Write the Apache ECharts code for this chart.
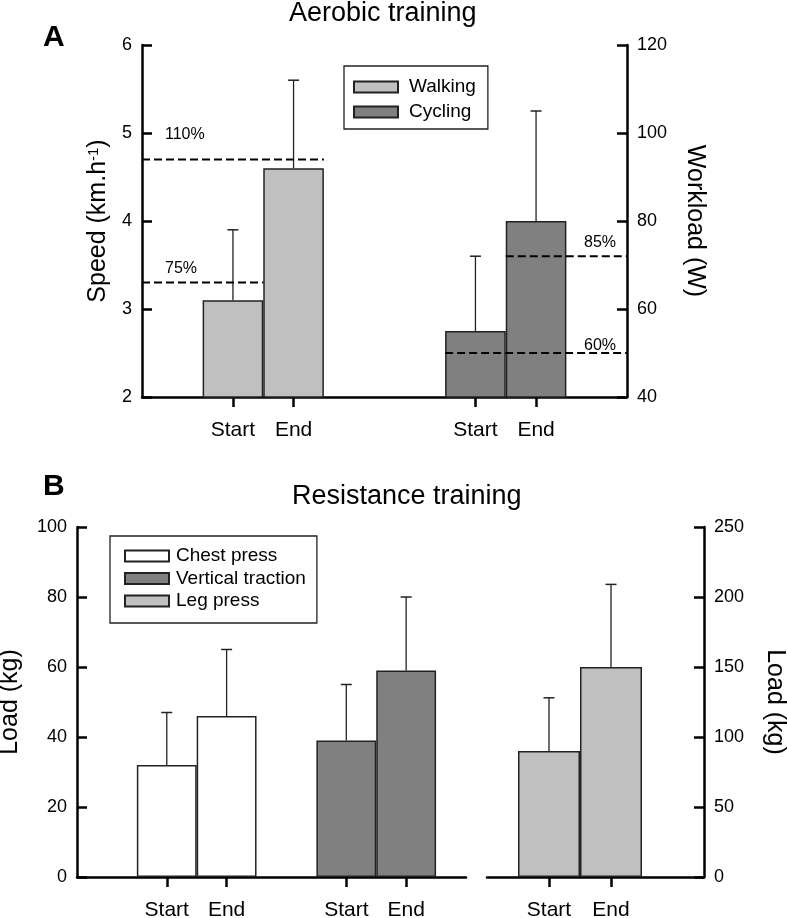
<!DOCTYPE html>
<html><head><meta charset="utf-8">
<script src="https://cdn.jsdelivr.net/npm/echarts@6/dist/echarts.min.js"></script>
<style>html,body{margin:0;padding:0;background:#fff}#c{width:787px;height:918px}</style>
</head><body><div id="c"></div>
<script>
// ---------------- data ----------------
const timepoints = ['Start', 'End'];
const aerobicTitle = 'Aerobic training';
const resistanceTitle = 'Resistance training';
const aerobicNames = ['Walking', 'Cycling'];
const walkingSpeed = [3.1, 4.6];
const walkingSpeedSD = [0.8, 1.0];
const cyclingWorkload = [55, 80];
const cyclingWorkloadSD = [17, 25];
const speedRefLabels = ['110%', '75%'];
const speedRefValues = [4.7, 3.3];
const workloadRefLabels = ['85%', '60%'];
const workloadRefValues = [72, 50];
const resistanceNames = ['Chest press', 'Vertical traction', 'Leg press'];
const chestPress = [32, 46];
const chestPressSD = [15, 19];
const verticalTraction = [39, 59];
const verticalTractionSD = [16, 21];
const legPress = [90, 150];
const legPressSD = [38, 59];
const speedTicks = [2, 6, 1];
const workloadTicks = [40, 120, 20];
const loadLeftTicks = [0, 100, 20];
const loadRightTicks = [0, 250, 50];

// ---------------- layout ----------------
const FONT = '"Liberation Sans", Arial, Helvetica, sans-serif';
const L = {
  gA: {left: 142, top: 45, width: 485, height: 352, xMax: 8},
  gB1: {left: 77, top: 527, width: 389, height: 350, xMax: 6.5},
  gB2: {left: 487, top: 527, width: 217, height: 350, xMax: 3.5},
  walkX: [1.5, 2.5], cycX: [5.5, 6.5],
  chestX: [1.5, 2.5], vtX: [4.5, 5.5], legX: [1, 2],
  speedSpan: [[0, 3], [0, 2]], workSpan: [[6, 8], [5, 8]],
  speedLabelDy: [-17, -6], workLabelDy: [-6, 1]
};
const COLORS = {light: '#c0c0c0', dark: '#808080', white: '#ffffff', edge: '#222'};
const bw = g => g.width / g.xMax;

const chart = echarts.init(document.getElementById('c'), null, {renderer: 'canvas'});

function xAxisCfg(gi, g, ticks) {
  return {
    type: 'value', gridIndex: gi, min: 0, max: g.xMax,
    axisLine: {onZero: false, lineStyle: {color: '#000', width: 2.5}},
    axisTick: {show: true, customValues: ticks, length: 10, lineStyle: {color: '#000', width: 2.5}},
    axisLabel: {customValues: ticks, margin: 23, fontSize: 21, color: '#000', fontFamily: FONT,
      formatter: v => { const i = ticks.indexOf(v); return i < 0 ? '' : timepoints[i % 2]; }},
    splitLine: {show: false}
  };
}
function yAxisCfg(gi, pos, t, name, nameGap, nameRotate, rich) {
  const o = {
    type: 'value', gridIndex: gi, position: pos, min: t[0], max: t[1], interval: t[2],
    axisLine: {show: true, onZero: false, lineStyle: {color: '#000', width: 2.5}},
    axisTick: {show: true, inside: true, length: 10, lineStyle: {color: '#000', width: 2.5}},
    axisLabel: {margin: 10, fontSize: 18, color: '#000', fontFamily: FONT},
    splitLine: {show: false},
    name: name, nameLocation: 'middle', nameGap: nameGap,
    nameTextStyle: {fontSize: 25, color: '#000', fontFamily: FONT}
  };
  if (nameRotate != null) o.nameRotate = nameRotate;
  if (rich) o.nameTextStyle.rich = rich;
  return o;
}
function barSeries(name, xs, vals, color, xi, yi, g) {
  return {
    type: 'bar', name, xAxisIndex: xi, yAxisIndex: yi,
    data: xs.map((x, i) => [x, vals[i]]),
    barWidth: bw(g), barGap: '-100%',
    itemStyle: {color, borderColor: COLORS.edge, borderWidth: 1.5},
    z: 2, silent: true
  };
}
function errSeries(xs, vals, sds, xi, yi) {
  return {
    type: 'custom', xAxisIndex: xi, yAxisIndex: yi, silent: true, z: 3,
    data: xs.map((x, i) => [x, vals[i], vals[i] + sds[i]]),
    encode: {x: 0, y: [1, 2]},
    renderItem(params, api) {
      const b = api.coord([api.value(0), api.value(1)]);
      const t = api.coord([api.value(0), api.value(2)]);
      return {type: 'group', children: [
        {type: 'line', shape: {x1: b[0], y1: b[1], x2: t[0], y2: t[1]}, style: {stroke: COLORS.edge, lineWidth: 1.3}},
        {type: 'line', shape: {x1: t[0] - 5.5, y1: t[1], x2: t[0] + 5.5, y2: t[1]}, style: {stroke: COLORS.edge, lineWidth: 1.5}}
      ]};
    }
  };
}
function refSeries(vals, labels, spans, dys, side, xi, yi) {
  return {
    type: 'custom', xAxisIndex: xi, yAxisIndex: yi, silent: true, z: 4,
    data: vals.map((v, i) => [spans[i][0], spans[i][1], v]),
    encode: {x: [0, 1], y: 2},
    renderItem(params, api) {
      const i = params.dataIndex;
      const p1 = api.coord([api.value(0), api.value(2)]);
      const p2 = api.coord([api.value(1), api.value(2)]);
      const tx = side === 'left' ? p1[0] + 23 : p2[0] - 11;
      return {type: 'group', children: [
        {type: 'line', shape: {x1: p1[0], y1: p1[1], x2: p2[0], y2: p2[1]},
         style: {stroke: '#000', lineWidth: 2, lineDash: [8, 4]}},
        {type: 'text', x: tx, y: p1[1] + dys[i],
         style: {text: labels[i], fontSize: 16, fontFamily: FONT, fill: '#000',
                 align: side === 'left' ? 'left' : 'right', verticalAlign: 'bottom'}}
      ]};
    }
  };
}

const gridOf = g => ({left: g.left, top: g.top, width: g.width, height: g.height, containLabel: false, outerBoundsMode: 'none'});
const legendBase = {
  orient: 'vertical', icon: 'rect', itemWidth: 44, itemHeight: 11,
  borderColor: '#222', borderWidth: 1.3, selectedMode: false, backgroundColor: '#fff'
};

const option = {
  backgroundColor: '#fff',
  animation: false,
  textStyle: {fontFamily: FONT},
  title: [
    {text: aerobicTitle, left: 289, top: 0, padding: 0, textStyle: {fontSize: 27, fontWeight: 'normal', color: '#000', fontFamily: FONT}},
    {text: resistanceTitle, left: 292, top: 483, padding: 0, textStyle: {fontSize: 27, fontWeight: 'normal', color: '#000', fontFamily: FONT}},
    {text: 'A', left: 43, top: 23, padding: 0, textStyle: {fontSize: 30, fontWeight: 'bold', color: '#000', fontFamily: FONT}},
    {text: 'B', left: 43, top: 472, padding: 0, textStyle: {fontSize: 30, fontWeight: 'bold', color: '#000', fontFamily: FONT}}
  ],
  legend: [
    Object.assign({}, legendBase, {data: aerobicNames, left: 344, top: 66, padding: [11, 12, 7, 9], itemGap: 5,
      textStyle: {fontSize: 19, lineHeight: 20, color: '#000', fontFamily: FONT, padding: [0, 0, 0, 6]}}),
    Object.assign({}, legendBase, {data: resistanceNames, left: 110, top: 536, padding: [10, 11, 12, 14], itemGap: 2.5,
      textStyle: {fontSize: 19, lineHeight: 20, color: '#000', fontFamily: FONT, padding: [0, 0, 0, 2]}})
  ],
  grid: [gridOf(L.gA), gridOf(L.gB1), gridOf(L.gB2)],
  xAxis: [
    xAxisCfg(0, L.gA, L.walkX.concat(L.cycX)),
    xAxisCfg(1, L.gB1, L.chestX.concat(L.vtX)),
    xAxisCfg(2, L.gB2, L.legX)
  ],
  yAxis: [
    yAxisCfg(0, 'left', speedTicks, 'Speed (km.h{sup|-1})', 30, null, {sup: {fontSize: 15, verticalAlign: 'top', fontFamily: FONT, color: '#000'}}),
    yAxisCfg(0, 'right', workloadTicks, 'Workload (W)', 55, -90),
    yAxisCfg(1, 'left', loadLeftTicks, 'Load (kg)', 54),
    yAxisCfg(2, 'right', loadRightTicks, 'Load (kg)', 58, -90)
  ],
  series: [
    barSeries(aerobicNames[0], L.walkX, walkingSpeed, COLORS.light, 0, 0, L.gA),
    barSeries(aerobicNames[1], L.cycX, cyclingWorkload, COLORS.dark, 0, 1, L.gA),
    errSeries(L.walkX, walkingSpeed, walkingSpeedSD, 0, 0),
    errSeries(L.cycX, cyclingWorkload, cyclingWorkloadSD, 0, 1),
    refSeries(speedRefValues, speedRefLabels, L.speedSpan, L.speedLabelDy, 'left', 0, 0),
    refSeries(workloadRefValues, workloadRefLabels, L.workSpan, L.workLabelDy, 'right', 0, 1),
    barSeries(resistanceNames[0], L.chestX, chestPress, COLORS.white, 1, 2, L.gB1),
    barSeries(resistanceNames[1], L.vtX, verticalTraction, COLORS.dark, 1, 2, L.gB1),
    barSeries(resistanceNames[2], L.legX, legPress, COLORS.light, 2, 3, L.gB2),
    errSeries(L.chestX, chestPress, chestPressSD, 1, 2),
    errSeries(L.vtX, verticalTraction, verticalTractionSD, 1, 2),
    errSeries(L.legX, legPress, legPressSD, 2, 3)
  ]
};
chart.setOption(option);
</script></body></html>
